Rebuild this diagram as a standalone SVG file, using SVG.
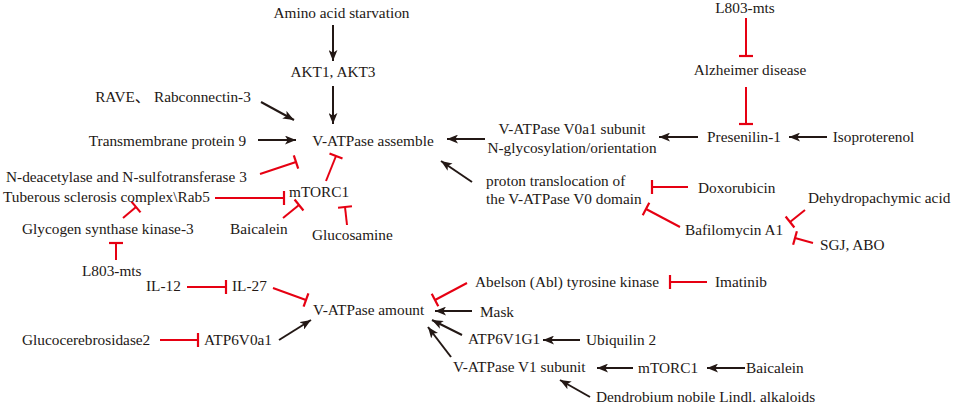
<svg xmlns="http://www.w3.org/2000/svg" width="955" height="405" viewBox="0 0 955 405">
<defs>
<style>
text{font-family:"Liberation Serif","Noto Sans CJK SC",serif;font-size:15.3px;fill:#231815}
.m{text-anchor:middle}
.a{stroke:#231815;stroke-width:2;fill:none;marker-end:url(#arr)}
.i{stroke:#e60012;stroke-width:2;fill:none;marker-end:url(#bar)}
</style>
<marker id="arr" viewBox="0 0 10 8" refX="10" refY="4" markerWidth="11" markerHeight="9" markerUnits="userSpaceOnUse" orient="auto">
<path d="M0,0 L10,4 L0,8 L2.5,4 z" fill="#231815"/>
</marker>
<marker id="bar" viewBox="-2 -8 4 16" refX="0" refY="0" markerWidth="4" markerHeight="16" markerUnits="userSpaceOnUse" orient="auto">
<path d="M0,-7 V7" stroke="#e60012" stroke-width="2.2"/>
</marker>
</defs>
<rect width="955" height="405" fill="#ffffff"/>
<g id="connectors">
<line class="a" x1="333" y1="25" x2="333" y2="61"/>
<line class="a" x1="333" y1="86" x2="333" y2="124"/>
<line class="a" x1="261" y1="102" x2="294" y2="120"/>
<line class="a" x1="258" y1="140" x2="296" y2="140"/>
<line class="a" x1="485" y1="139" x2="447" y2="139"/>
<line class="a" x1="698" y1="137" x2="659" y2="137"/>
<line class="a" x1="827" y1="137" x2="789" y2="137"/>
<line class="a" x1="472" y1="182" x2="441" y2="161"/>
<line class="a" x1="279" y1="340" x2="311" y2="320"/>
<line class="a" x1="472" y1="311" x2="435" y2="311"/>
<line class="a" x1="462" y1="335" x2="432" y2="320"/>
<line class="a" x1="580" y1="340" x2="543" y2="340"/>
<line class="a" x1="451" y1="357" x2="428" y2="327"/>
<line class="a" x1="633" y1="368" x2="597" y2="368"/>
<line class="a" x1="745" y1="368" x2="707" y2="368"/>
<line class="a" x1="590" y1="397" x2="560" y2="380"/>
<line class="i" x1="746" y1="18" x2="746" y2="56"/>
<line class="i" x1="746" y1="87" x2="746" y2="124"/>
<line class="i" x1="688" y1="187" x2="652" y2="187"/>
<line class="i" x1="680" y1="227" x2="646" y2="209"/>
<line class="i" x1="805" y1="210" x2="790" y2="222"/>
<line class="i" x1="813" y1="243" x2="795" y2="238"/>
<line class="i" x1="260" y1="174" x2="296" y2="162"/>
<line class="i" x1="326" y1="181" x2="336" y2="156"/>
<line class="i" x1="215" y1="198" x2="284" y2="198"/>
<line class="i" x1="123" y1="218" x2="136" y2="207"/>
<line class="i" x1="283" y1="218" x2="299" y2="205"/>
<line class="i" x1="347" y1="225" x2="345" y2="207"/>
<line class="i" x1="116" y1="260" x2="116" y2="243"/>
<line class="i" x1="187" y1="287" x2="226" y2="287"/>
<line class="i" x1="273" y1="288" x2="306" y2="300"/>
<line class="i" x1="160" y1="340" x2="198" y2="340"/>
<line class="i" x1="707" y1="282" x2="670" y2="282"/>
<line class="i" x1="467" y1="283" x2="435" y2="300"/>
</g>
<g id="n-amino"><text class="m" x="341.5" y="18">Amino acid starvation</text></g>
<g id="n-akt"><text class="m" x="333" y="77">AKT1, AKT3</text></g>
<g id="n-rave"><text class="m" x="173" y="102">RAVE、 Rabconnectin-3</text></g>
<g id="n-tmem9"><text class="m" x="167.5" y="146">Transmembrane protein 9</text></g>
<g id="n-assemble"><text class="m" x="373" y="146">V-ATPase assemble</text></g>
<g id="n-v0a1"><text class="m" x="572" y="134">V-ATPase V0a1 subunit</text><text class="m" x="572" y="153">N-glycosylation/orientation</text></g>
<g id="n-presenilin"><text class="m" x="744" y="142">Presenilin-1</text></g>
<g id="n-isoproterenol"><text class="m" x="873.5" y="142">Isoproterenol</text></g>
<g id="n-l803-top"><text class="m" x="745" y="13">L803-mts</text></g>
<g id="n-alzheimer"><text class="m" x="750" y="75">Alzheimer disease</text></g>
<g id="n-proton"><text x="486" y="186">proton translocation of</text><text x="486" y="204">the V-ATPase V0 domain</text></g>
<g id="n-doxorubicin"><text x="698" y="193">Doxorubicin</text></g>
<g id="n-dehydro"><text x="808" y="203">Dehydropachymic acid</text></g>
<g id="n-bafilomycin"><text x="685" y="235">Bafilomycin A1</text></g>
<g id="n-sgj"><text x="820" y="250">SGJ, ABO</text></g>
<g id="n-ndst3"><text x="6" y="182">N-deacetylase and N-sulfotransferase 3</text></g>
<g id="n-mtorc1-left"><text x="289" y="197">mTORC1</text></g>
<g id="n-tsc"><text x="3" y="202">Tuberous sclerosis complex\Rab5</text></g>
<g id="n-gsk3"><text x="22" y="234">Glycogen synthase kinase-3</text></g>
<g id="n-baicalein-left"><text x="230" y="234">Baicalein</text></g>
<g id="n-glucosamine"><text x="312" y="240">Glucosamine</text></g>
<g id="n-l803-left"><text x="82" y="276">L803-mts</text></g>
<g id="n-il12"><text x="146" y="291">IL-12</text></g>
<g id="n-il27"><text x="232" y="291">IL-27</text></g>
<g id="n-amount"><text x="313" y="315">V-ATPase amount</text></g>
<g id="n-gba2"><text x="22" y="345">Glucocerebrosidase2</text></g>
<g id="n-atp6v0a1"><text x="204" y="345">ATP6V0a1</text></g>
<g id="n-abl"><text x="475" y="287">Abelson (Abl) tyrosine kinase</text></g>
<g id="n-imatinib"><text x="715" y="287">Imatinib</text></g>
<g id="n-mask"><text x="480" y="317">Mask</text></g>
<g id="n-atp6v1g1"><text x="468" y="344">ATP6V1G1</text></g>
<g id="n-ubiquilin"><text x="586" y="345">Ubiquilin 2</text></g>
<g id="n-v1"><text x="453" y="372">V-ATPase V1 subunit</text></g>
<g id="n-mtorc1-right"><text x="638" y="373">mTORC1</text></g>
<g id="n-baicalein-right"><text x="746" y="373">Baicalein</text></g>
<g id="n-dendrobium"><text x="596" y="402">Dendrobium nobile Lindl. alkaloids</text></g>
</svg>
